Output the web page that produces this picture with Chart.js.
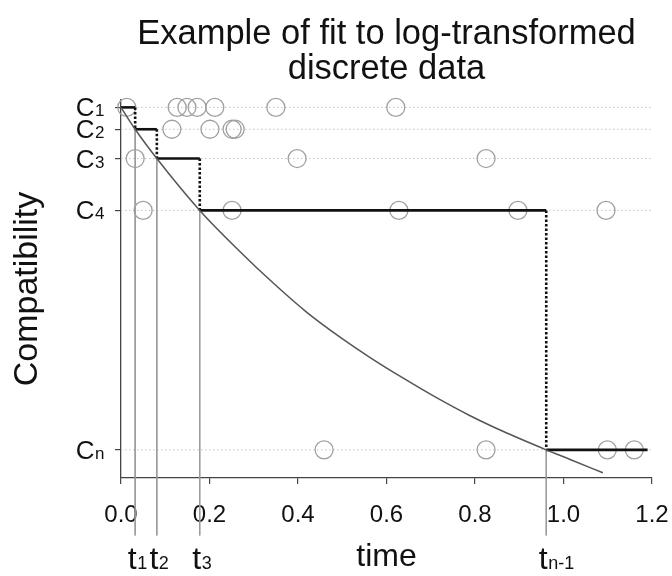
<!DOCTYPE html>
<html><head><meta charset="utf-8">
<style>html,body{margin:0;padding:0;background:#fff}#c{display:block}</style>
<script src="https://cdn.jsdelivr.net/npm/chart.js@4.4.1/dist/chart.umd.min.js"></script>
</head><body>
<canvas id="c" width="672" height="576"></canvas>
<script>
// ---- data ----
const titleLines = ['Example of fit to log-transformed', 'discrete data'];
const levelSubs = ['1', '2', '3', '4', 'n'];
const levelValues = [1.0, 0.941, 0.862, 0.722, 0.076];
const changeTimes = [0.032, 0.081, 0.178, 0.961];
const changeSubs = ['1', '2', '3', 'n-1'];
const xTickValues = [0, 0.2, 0.4, 0.6, 0.8, 1.0, 1.2];
const stepEnd = 1.19;
const lineBottom = -0.155;
const obsC1 = [0.013, 0.127, 0.149, 0.172, 0.212, 0.350, 0.621];
const obsC2 = [0.115, 0.201, 0.251, 0.258];
const obsC3 = [0.032, 0.398, 0.825];
const obsC4 = [0.050, 0.251, 0.628, 0.897, 1.096];
const obsCn = [0.459, 0.825, 1.099, 1.160];
const curveT = [0, 0.032, 0.081, 0.178, 0.268, 0.344, 0.420, 0.495, 0.563, 0.637, 0.714, 0.789, 0.863, 0.961, 1.015, 1.089];
const curveV = [1.0, 0.941, 0.862, 0.722, 0.612, 0.526, 0.447, 0.380, 0.325, 0.270, 0.216, 0.168, 0.126, 0.076, 0.050, 0.014];

const FONT = '"Liberation Sans", Arial, Helvetica, sans-serif';
Chart.defaults.font.family = FONT;
Chart.defaults.color = '#111';

const datasets = [];
// fitted curve
datasets.push({ type: 'line', data: curveT.map((t, i) => ({ x: t, y: curveV[i] })),
  borderColor: '#555', borderWidth: 1.5, pointRadius: 0, cubicInterpolationMode: 'monotone', order: 1 });
// step: solid horizontals, dotted verticals
const stepStarts = [0].concat(changeTimes);
const stepEnds = changeTimes.concat([stepEnd]);
levelValues.forEach((v, i) => {
  datasets.push({ type: 'line', data: [{ x: stepStarts[i], y: v }, { x: stepEnds[i], y: v }],
    borderColor: '#111', borderWidth: 2.6, pointRadius: 0, order: 2 });
});
changeTimes.forEach((t, i) => {
  datasets.push({ type: 'line', data: [{ x: t, y: levelValues[i] }, { x: t, y: levelValues[i + 1] }],
    borderColor: '#111', borderWidth: 2.6, borderDash: [2.5, 2], pointRadius: 0, order: 2 });
  datasets.push({ type: 'line', data: [{ x: t, y: levelValues[i + 1] }, { x: t, y: lineBottom }],
    borderColor: '#9a9a9a', borderWidth: 1, pointRadius: 0, clip: false, order: 5 });
});
// observations
[obsC1, obsC2, obsC3, obsC4, obsCn].forEach((arr, i) => {
  datasets.push({ type: 'scatter', data: arr.map(t => ({ x: t, y: levelValues[i] })), showLine: false, clip: false,
    pointRadius: 9, pointBackgroundColor: 'rgba(0,0,0,0)', pointBorderColor: '#a0a0a0', pointBorderWidth: 1.3, order: 3 });
});
// dotted reference lines at each level
levelValues.forEach(v => {
  datasets.push({ type: 'line', data: [{ x: 0, y: v }, { x: 1.2, y: v }],
    borderColor: '#c4c4c4', borderWidth: 1, borderDash: [1.5, 2.5], pointRadius: 0, order: 6 });
});

const labelPlugin = {
  id: 'subLabels',
  afterDraw(chart) {
    const ctx = chart.ctx, xs = chart.scales.x, ys = chart.scales.y;
    ctx.save();
    ctx.fillStyle = '#111';
    ctx.textBaseline = 'alphabetic';
    ctx.textAlign = 'left';
    levelValues.forEach((v, i) => {
      const y = ys.getPixelForValue(v);
      ctx.font = '26px ' + FONT;
      const wC = ctx.measureText('C').width;
      ctx.font = '17px ' + FONT;
      const wS = ctx.measureText(levelSubs[i]).width;
      const x0 = 104 - wS - wC;
      ctx.font = '26px ' + FONT;
      ctx.fillText('C', x0, y + 9);
      ctx.font = '17px ' + FONT;
      ctx.fillText(levelSubs[i], x0 + wC + 0.5, y + 9);
    });
    changeTimes.forEach((t, i) => {
      const x = xs.getPixelForValue(t);
      ctx.font = '32px ' + FONT;
      const wt = ctx.measureText('t').width;
      ctx.fillText('t', x - wt + 1.5, 569);
      ctx.font = '18px ' + FONT;
      ctx.fillText(changeSubs[i], x + 2, 569);
    });
    ctx.restore();
  }
};

new Chart(document.getElementById('c'), {
  type: 'scatter',
  data: { datasets },
  options: {
    responsive: false, animation: false, devicePixelRatio: 1,
    layout: { padding: { left: 0, top: 0, bottom: 0, right: 20 } },
    plugins: {
      legend: { display: false }, tooltip: { enabled: false },
      title: { display: true, text: titleLines, fullSize: false, color: '#111',
        font: { size: 34.5, weight: 'normal', lineHeight: 1.02 }, padding: { top: 17, bottom: 12.6 } }
    },
    scales: {
      x: { type: 'linear', min: 0, max: 1.2,
        afterBuildTicks: s => { s.ticks = xTickValues.map(v => ({ value: v })); },
        afterFit: s => { s.height = 98; s.paddingLeft = 0; s.paddingRight = 0; },
        ticks: { font: { size: 24 }, color: '#111', padding: 16.6, maxRotation: 0, autoSkip: false,
          callback: v => Number(v).toFixed(1) },
        grid: { display: true, drawOnChartArea: false, drawTicks: true, tickLength: 6, color: '#444', lineWidth: 1.2 },
        border: { display: true, color: '#444', width: 1.3 },
        title: { display: true, text: 'time', font: { size: 32, lineHeight: 1.2 }, color: '#111', padding: { top: 0, bottom: 0 } }
      },
      y: { type: 'linear', min: 0, max: 1.02,
        afterBuildTicks: s => { s.ticks = levelValues.map(v => ({ value: v })); },
        afterFit: s => { s.width = 121; s.paddingTop = 0; s.paddingBottom = 0; },
        ticks: { display: false },
        grid: { display: true, drawOnChartArea: false, drawTicks: true, tickLength: 6, color: '#444', lineWidth: 1.2 },
        border: { display: true, color: '#444', width: 1.3 },
        title: { display: true, text: 'Compatibility', font: { size: 34, lineHeight: 1.2 }, color: '#111', padding: { top: 7, bottom: 0 } }
      }
    }
  },
  plugins: [labelPlugin]
});
</script>
</body></html>
